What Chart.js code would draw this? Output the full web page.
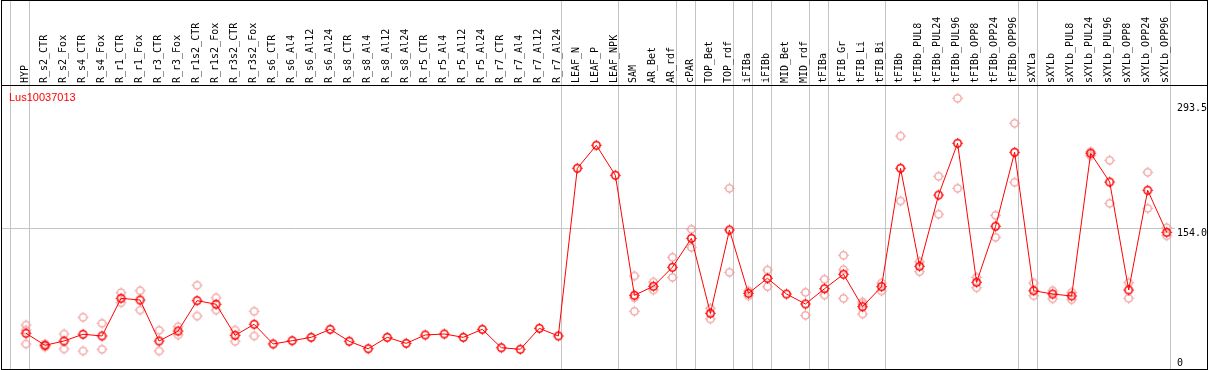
<!DOCTYPE html>
<html><head><meta charset="utf-8">
<script src="https://cdn.jsdelivr.net/npm/chart.js@4.4.1/dist/chart.umd.min.js"></script>
<style>
html,body{margin:0;padding:0;background:#fff;}
#box{position:relative;width:1209px;height:370px;overflow:hidden;}
#c{position:absolute;left:0;top:0;}
#frame{position:absolute;left:1px;top:0;width:1205px;height:368px;border:1px solid #000;pointer-events:none;}
#hline{position:absolute;left:1px;top:85px;width:1207px;height:1px;background:#000;pointer-events:none;}
</style></head><body>
<div id="box"><canvas id="c" width="1209" height="370"></canvas><div id="hline"></div><div id="frame"></div></div>
<script>
const geneName = 'Lus10037013';
const categories = ['HYP','R_s2_CTR','R_s2_Fox','R_s4_CTR','R_s4_Fox','R_r1_CTR','R_r1_Fox','R_r3_CTR','R_r3_Fox','R_r1s2_CTR','R_r1s2_Fox','R_r3s2_CTR','R_r3s2_Fox','R_s6_CTR','R_s6_Al4','R_s6_Al12','R_s6_Al24','R_s8_CTR','R_s8_Al4','R_s8_Al12','R_s8_Al24','R_r5_CTR','R_r5_Al4','R_r5_Al12','R_r5_Al24','R_r7_CTR','R_r7_Al4','R_r7_Al12','R_r7_Al24','LEAF_N','LEAF_P','LEAF_NPK','SAM','AR_Bet','AR_rdf','cPAR','TOP_Bet','TOP_rdf','iFIBa','iFIBb','MID_Bet','MID_rdf','tFIBa','tFIB_Gr','tFIB_Li','tFIB_Bi','tFIBb','tFIBb_PUL8','tFIBb_PUL24','tFIBb_PUL96','tFIBb_OPP8','tFIBb_OPP24','tFIBb_OPP96','sXYLa','sXYLb','sXYLb_PUL8','sXYLb_PUL24','sXYLb_PUL96','sXYLb_OPP8','sXYLb_OPP24','sXYLb_OPP96'];
const meanValues = [37.1,23.7,28.5,36.0,34.1,76.0,74.1,28.5,39.6,73.4,69.4,34.8,47.1,25.2,28.8,32.6,41.5,28.2,19.9,32.6,25.9,35.2,36.3,32.6,41.5,21.0,19.3,42.6,34.1,220.8,246.4,213.0,79.4,89.4,110.6,142.8,59.3,152.1,81.6,98.3,80.8,69.7,86.7,102.8,66.7,89.0,220.8,111.7,191.0,248.6,93.9,156.2,238.6,84.5,80.8,78.6,237.5,205.5,85.3,196.3,149.5];
const replicateValues = [
  [46.3,40.7,25.2],[25.2,24.0,21.8],[36.3,19.6],[54.9,17.4],[48.2,19.3],[82.3,71.1],[84.5,63.0],[40.4,17.4],[44.4,35.2],[90.5,56.3],[76.7,63.0],[40.7,28.2],[61.6,34.1],
  [],[],[],[],[],[],[],[],[],[],[],[],[],[],[],[],
  [],[],[],
  [100.9,76.7,61.6],[94.2,85.3],[121.7,99.4],[152.9,132.8],[64.9,53.0],[198.5,105.0],[84.2,78.8],[107.5,89.0],[],[82.7,57.1],
  [97.2,79.7],[123.9,107.9,76.0],[71.9,69.7,58.6],[93.1,84.2],
  [256.7,184.4],[116.8,105.7],[211.9,169.6],[298.7,198.5],[99.4,87.8],[168.4,143.9],[270.9,205.2],
  [93.1,78.9],[84.5,75.6],[82.7,74.5],[239.3,234.8],[229.7,181.8],[93.4,76.0],[216.3,176.2],[154.6,145.7]
];
const groupEnds = [-1,0,28,31,34,35,37,38,39,41,42,45,52,53,60];
const yTickValues = [0,154,293.5];
const yTickLabels = ['0','154.0','293.5'];

const GRID = '#c4c4c4';
const SEP = 0.19;
const X_MIN = -1.262, X_MAX = 60.436, Y_MIN = -2.67, Y_MAX = 313.5;

function ringImage(color, lw){
  const c = document.createElement('canvas'); c.width = 13; c.height = 13;
  const g = c.getContext('2d');
  g.strokeStyle = color; g.lineWidth = lw;
  g.beginPath(); g.arc(6.5,6.5,3.7,0,Math.PI*2); g.stroke();
  g.lineWidth = 1; g.beginPath();
  g.moveTo(6.5,1.2); g.lineTo(6.5,2.4); g.moveTo(6.5,10.6); g.lineTo(6.5,11.8);
  g.moveTo(1.2,6.5); g.lineTo(2.4,6.5); g.moveTo(10.6,6.5); g.lineTo(11.8,6.5);
  g.stroke();
  return c;
}
const darkPt = ringImage('#ff0000', 1.5);
const lightPt = ringImage('#f09a9a', 1.3);

const meanPoints = meanValues.map((v,i)=>({x:i,y:v}));
const repPoints = [];
replicateValues.forEach((arr,i)=>arr.forEach(v=>repPoints.push({x:i,y:v})));

const xTicks = categories.map((c,i)=>i).concat(groupEnds.map(g=>g+SEP)).sort((a,b)=>a-b);
const isSep = v => !Number.isInteger(v);
const monoFont = '"DejaVu Sans Mono", "Liberation Mono", monospace';

const geneLabel = {
  id:'geneLabel',
  afterDraw(chart){
    const g = chart.ctx; g.save();
    g.font = '11px "Liberation Sans", Arial, sans-serif';
    g.fillStyle = '#ff0000'; g.textBaseline = 'alphabetic'; g.textAlign = 'left';
    g.fillText(geneName, 9, 101);
    g.restore();
  }
};

new Chart(document.getElementById('c'), {
  type: 'scatter',
  data: { datasets: [
    { data: meanPoints, showLine: true, borderColor: '#ff0000', borderWidth: 1, pointStyle: darkPt, pointRadius: 5, tension: 0 },
    { data: repPoints, pointStyle: lightPt, pointRadius: 5 }
  ]},
  options: {
    responsive: false, animation: false, devicePixelRatio: 1,
    layout: { autoPadding: false, padding: { left: 2, right: 0, top: 0, bottom: 1 } },
    plugins: { legend: { display: false }, tooltip: { enabled: false } },
    scales: {
      x: {
        type: 'linear', position: 'top', min: X_MIN, max: X_MAX,
        afterBuildTicks(s){ s.ticks = xTicks.map(v=>({value:v})); },
        afterFit(s){ s.height = 85; s.paddingLeft = 0; s.paddingRight = 0; },
        ticks: { autoSkip: false, minRotation: 90, maxRotation: 90, padding: -83, labelOffset: 11, color: '#000',
          font: { family: monoFont, size: 10 },
          callback: v => Number.isInteger(v) ? categories[v] : '' },
        grid: { display: true, drawOnChartArea: true, drawTicks: true, tickLength: 85, lineWidth: 1,
          color: ctx => (ctx.tick && isSep(ctx.tick.value)) ? GRID : 'rgba(0,0,0,0)',
          tickColor: ctx => (ctx.tick && isSep(ctx.tick.value)) ? GRID : 'rgba(0,0,0,0)' },
        border: { display: false }
      },
      y: {
        type: 'linear', position: 'right', min: Y_MIN, max: Y_MAX,
        afterBuildTicks(s){ s.ticks = yTickValues.map(v=>({value:v})); },
        afterFit(s){ s.width = 34; s.paddingTop = 0; s.paddingBottom = 0; },
        ticks: { padding: 2, align: 'start', color: '#000',
          font: ctx => ({ family: monoFont, size: 10, lineHeight: (ctx.tick && ctx.tick.value === 0) ? 1.72 : 1.2 }),
          callback: (v,i) => { const k = yTickValues.indexOf(v); const t = yTickLabels[k]; return v === 0 ? [t, ''] : t; } },
        grid: { drawTicks: false, lineWidth: 1,
          color: ctx => (ctx.tick && ctx.tick.value === 154) ? GRID : 'rgba(0,0,0,0)' },
        border: { display: false }
      }
    }
  },
  plugins: [geneLabel]
});
</script>
</body></html>
